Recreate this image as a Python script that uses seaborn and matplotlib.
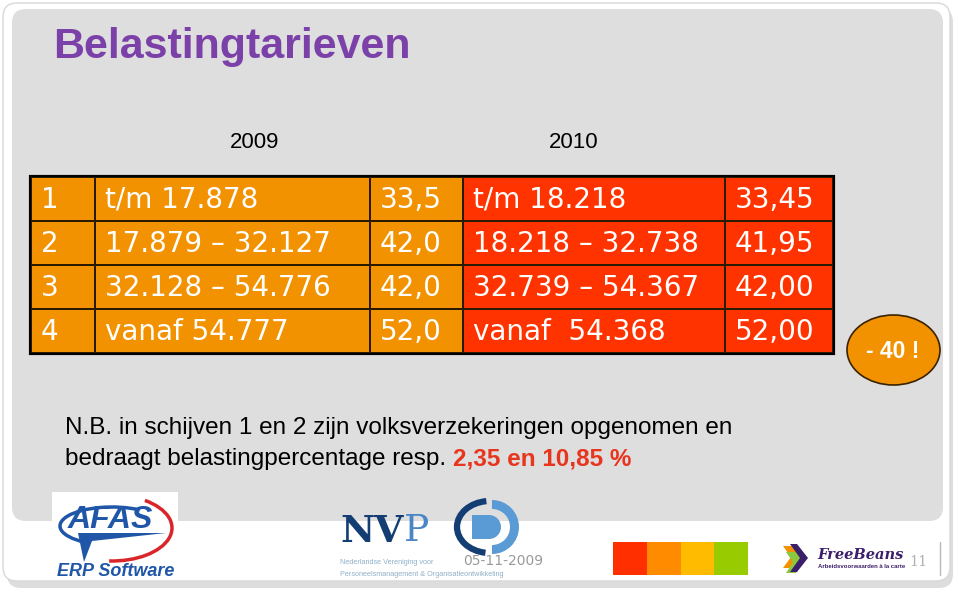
import numpy as np
import matplotlib
matplotlib.use("Agg")
import matplotlib.pyplot as plt
from matplotlib.colors import ListedColormap
from matplotlib.patches import FancyBboxPatch, Ellipse, Rectangle, Wedge, Polygon, Arc
import seaborn as sns

# table data (schijven / grenzen / tarieven)
schijven = ["1", "2", "3", "4"]
grens_2009 = ["t/m 17.878", "17.879 \u2013 32.127", "32.128 \u2013 54.776", "vanaf 54.777"]
tarief_2009 = ["33,5", "42,0", "42,0", "52,0"]
grens_2010 = ["t/m 18.218", "18.218 \u2013 32.738", "32.739 \u2013 54.367", "vanaf  54.368"]
tarief_2010 = ["33,45", "41,95", "42,00", "52,00"]
jaren = ["2009", "2010"]
strip_kleuren = ["#ff2f00", "#ff8c00", "#ffbb00", "#99cc00"]

title = "Belastingtarieven"
nb_line1 = "N.B. in schijven 1 en 2 zijn volksverzekeringen opgenomen en"
nb_line2 = "bedraagt belastingpercentage resp. "
nb_red = "2,35 en 10,85 %"

sns.set_theme(style="white")
plt.rcParams["font.family"] = ["Liberation Sans", "DejaVu Sans"]

W, H = 959, 596
fig = plt.figure(figsize=(W / 100, H / 100), dpi=100)
fig.patch.set_facecolor("white")

ax = fig.add_axes([0, 0, 1, 1])
ax.set_xlim(0, W)
ax.set_ylim(H, 0)
ax.axis("off")


def px_axes(x0, y0, x1, y1):
    a = fig.add_axes([x0 / W, 1 - y1 / H, (x1 - x0) / W, (y1 - y0) / H])
    return a


# slide card + shadow + grey panel
ax.add_patch(FancyBboxPatch((7, 8), 946, 580, boxstyle="round,pad=0,rounding_size=14",
                            fc="#bdbdbd", ec="none", alpha=0.5, zorder=0))
ax.add_patch(FancyBboxPatch((3, 3), 947, 578, boxstyle="round,pad=0,rounding_size=14",
                            fc="white", ec="#d8d8d8", lw=1, zorder=1))
ax.add_patch(FancyBboxPatch((12, 9), 931, 512, boxstyle="round,pad=0,rounding_size=14",
                            fc="#dedede", ec="none", zorder=2))

ax.text(53, 47, title, color="#7b41a9", fontsize=31, fontweight="bold",
        va="center", ha="left", zorder=5)

ax.text(255, 142, jaren[0], fontsize=16, ha="center", va="center", color="black", zorder=5)
ax.text(574, 142, jaren[1], fontsize=16, ha="center", va="center", color="black", zorder=5)

# table columns drawn as one-column heatmaps
orange = "#f39200"
red = "#ff3300"
col_edges = [31, 95, 370, 463, 725, 833]
row_top, row_bot = 177, 353
columns = [schijven, grens_2009, tarief_2009, grens_2010, tarief_2010]
col_colors = [orange, orange, orange, red, red]
for i, (labels, colr) in enumerate(zip(columns, col_colors)):
    x0, x1 = col_edges[i], col_edges[i + 1]
    cax = px_axes(x0, row_top, x1, row_bot)
    sns.heatmap(np.zeros((len(labels), 1)), cmap=ListedColormap([colr]), cbar=False,
                linewidths=1.3, linecolor="#2a1a00", xticklabels=False, yticklabels=False,
                ax=cax)
    pad = 10.0 / (x1 - x0)
    for r, lab in enumerate(labels):
        cax.text(pad, r + 0.52, lab, color="white", fontsize=20, family="DejaVu Sans",
                 ha="left", va="center")

ax.add_patch(Rectangle((col_edges[0], row_top), col_edges[-1] - col_edges[0], row_bot - row_top,
                       fill=False, ec="black", lw=3, zorder=20))

# "- 40 !" balloon
ax.add_patch(Ellipse((893.5, 350), 93, 70, fc="#f39200", ec="#3a2200", lw=1.2, zorder=5))
ax.text(893, 352, "- 40 !", color="white", fontsize=16.5, fontweight="bold",
        ha="center", va="center", zorder=6)

# note
ax.text(65, 428, nb_line1, fontsize=17.5, ha="left", va="center", color="black", zorder=5)
t2 = ax.text(65, 459, nb_line2, fontsize=17.5, ha="left", va="center", color="black", zorder=5)
fig.canvas.draw()
bb = t2.get_window_extent()
ax.text(bb.x1, 459, nb_red, fontsize=17.5, fontweight="bold", ha="left", va="center",
        color="#e8351e", zorder=5)

# AFAS logo
ax.add_patch(Rectangle((52, 492), 126, 88, fc="white", ec="none", zorder=6))
ax.add_patch(Arc((112, 528), 120, 66, theta1=-40, theta2=95, color="#d9262b", lw=2.5, zorder=7))
ax.add_patch(Arc((112, 526), 104, 38, theta1=150, theta2=330, color="#1f56a8", lw=2.5, zorder=7))
ax.add_patch(Polygon([[78, 533], [166, 533], [92, 541], [84, 562]], closed=True,
                     fc="#1f56a8", ec="none", zorder=7))
ax.text(110, 520, "AFAS", color="#1f56a8", fontsize=23, fontweight="bold", style="italic",
        ha="center", va="center", zorder=8)
ax.text(116, 572, "ERP Software", color="#1f56a8", fontsize=13, fontweight="bold",
        style="italic", ha="center", va="center", zorder=8)

# NVP logo
nv = ax.text(340, 531, "NV", color="#143d73", fontsize=27, fontweight="bold",
             family="DejaVu Serif", ha="left", va="center", zorder=6)
fig.canvas.draw()
nvb = nv.get_window_extent()
ax.text(nvb.x1 + 1, 531, "P", color="#4a86c5", fontsize=27, family="DejaVu Serif",
        ha="left", va="center", zorder=6)
ax.add_patch(Arc((490, 527), 66, 52, theta1=100, theta2=262, color="#143d73", lw=4.5, zorder=6))
ax.add_patch(Wedge((492, 527), 27, -90, 90, width=9, fc="#5b9bd5", ec="none", zorder=6))
ax.add_patch(Wedge((489, 527), 12, -90, 90, fc="#5b9bd5", ec="none", zorder=6))
ax.add_patch(Rectangle((472, 515), 17, 24, fc="#5b9bd5", ec="none", zorder=6))
ax.text(340, 562, "Nederlandse Vereniging voor", color="#8fb0c8", fontsize=5.2,
        ha="left", va="center", zorder=6)
ax.text(340, 574, "Personeelsmanagement & Organisatieontwikkeling", color="#8fb0c8",
        fontsize=5.2, ha="left", va="center", zorder=6)
ax.text(463, 561, "05-11-2009", color="#9a9a9a", fontsize=10, family="DejaVu Sans",
        ha="left", va="center", zorder=6)

# colour strip
sax = px_axes(613, 542, 748, 575)
sns.heatmap(np.arange(len(strip_kleuren)).reshape(1, -1), cmap=ListedColormap(strip_kleuren),
            cbar=False, xticklabels=False, yticklabels=False, ax=sax)

# FreeBeans logo
ax.add_patch(Polygon([[783, 546], [792, 546], [800, 557], [792, 568], [783, 568], [791, 557]],
                     fc="#f39200", ec="none", zorder=6))
ax.add_patch(Polygon([[786, 552], [800, 552], [804, 560], [796, 573], [786, 573], [793, 562]],
                     fc="#8dc63f", ec="none", zorder=6))
ax.add_patch(Polygon([[790, 544], [797, 544], [808, 558], [797, 572], [790, 572], [800, 558]],
                     fc="#3b1f6b", ec="none", zorder=7))
ax.text(817, 555, "FreeBeans", color="#3b1f6b", fontsize=10.5, fontweight="bold", style="italic",
        family="DejaVu Serif", ha="left", va="center", zorder=6)
ax.text(818, 566, "Arbeidsvoorwaarden \u00e0 la carte", color="#3b1f6b", fontsize=4.3,
        fontweight="bold", ha="left", va="center", zorder=6)
ax.text(909, 562, "11", color="#b0b0b0", fontsize=10.5, family="DejaVu Serif",
        ha="left", va="center", zorder=7)
ax.plot([940, 940], [542, 575], color="#b8b8b8", lw=1, zorder=6)

fig.savefig("out.png", dpi=100)
